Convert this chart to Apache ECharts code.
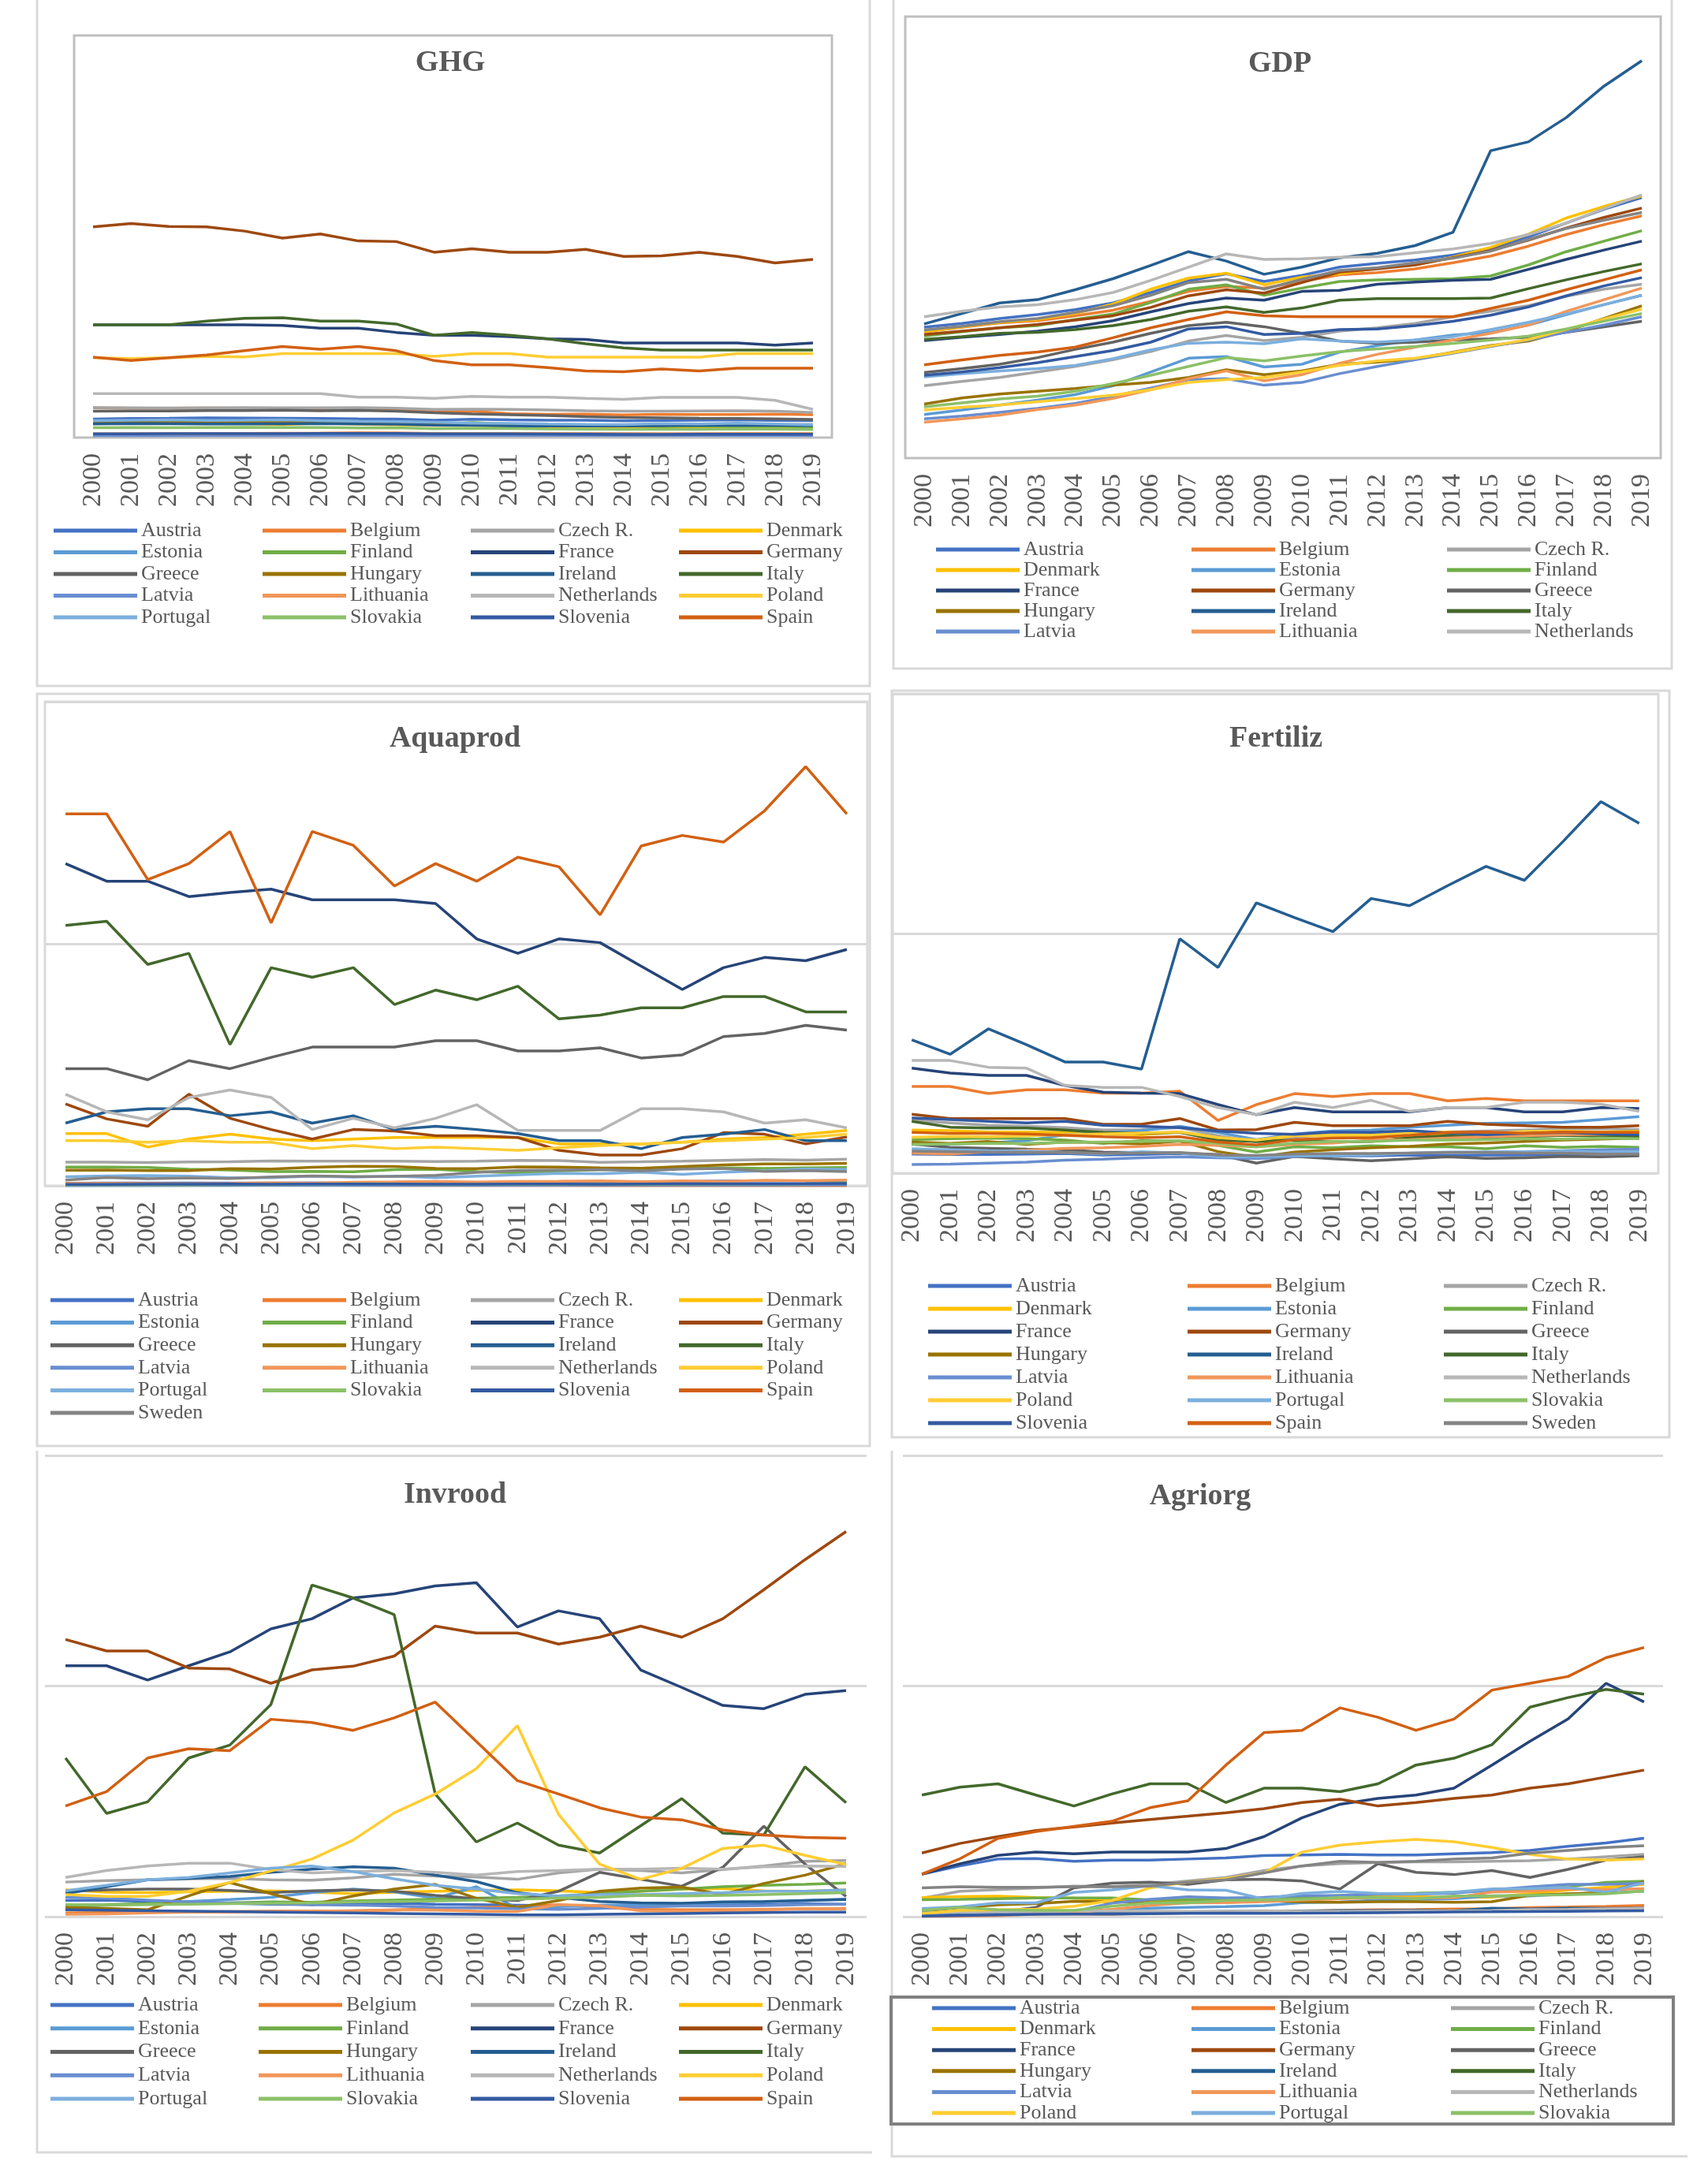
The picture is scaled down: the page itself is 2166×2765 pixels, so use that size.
<!DOCTYPE html>
<html><head><meta charset="utf-8">
<script src="https://cdn.jsdelivr.net/npm/echarts@6/dist/echarts.min.js"></script>
<style>html,body{margin:0;padding:0;background:#fff}#c{width:2166px;height:2765px}</style>
</head><body><div id="c"></div><script>
const years = ['2000','2001','2002','2003','2004','2005','2006','2007','2008','2009','2010','2011','2012','2013','2014','2015','2016','2017','2018','2019'];
const countries = ['Austria','Belgium','Czech R.','Denmark','Estonia','Finland','France','Germany','Greece','Hungary','Ireland','Italy','Latvia','Lithuania','Netherlands','Poland','Portugal','Slovakia','Slovenia','Spain','Sweden'];

// GHG (Mt CO2e)
const ghgData = {
 'Austria':[92,95,96,98,97,96,95,93,92,86,91,88,86,86,83,85,86,88,85,84],
 'Belgium':[148,146,146,147,145,142,139,136,138,127,131,119,116,117,113,116,115,115,117,114],
 'Czech R.':[149,148,147,148,149,148,148,149,146,140,141,140,137,133,131,131,132,133,131,125],
 'Denmark':[70,70,70,75,70,65,72,67,64,61,62,57,53,56,52,49,51,49,49,45],
 'Estonia':[17,17,17,19,19,18,17,21,19,16,20,20,19,21,20,17,19,20,18,14],
 'Finland':[70,72,74,80,76,68,80,78,70,66,75,67,61,63,59,55,58,56,57,53],
 'France':[561,561,561,561,561,558,544,544,523,509,509,502,491,488,471,471,471,471,460,471],
 'Germany':[1048,1065,1050,1048,1027,992,1013,978,975,922,939,922,922,936,901,904,922,901,869,886],
 'Greece':[131,132,132,134,134,136,133,135,131,124,118,114,110,104,100,98,96,95,93,90],
 'Hungary':[77,78,77,79,79,78,77,75,73,67,66,65,62,59,59,61,62,64,64,65],
 'Ireland':[68,70,69,68,68,69,70,68,67,62,61,58,59,58,58,60,62,61,61,60],
 'Italy':[561,561,561,579,593,596,579,579,565,509,523,509,491,467,446,435,435,435,435,435],
 'Latvia':[10,10,10,11,11,11,11,12,11,11,12,11,11,11,11,11,11,11,12,11],
 'Lithuania':[19,20,20,20,21,22,23,25,24,21,21,21,21,20,20,20,20,21,21,21],
 'Netherlands':[219,219,219,219,219,219,219,201,201,195,205,201,201,195,190,200,200,200,185,140],
 'Poland':[397,393,397,404,401,418,418,418,418,404,418,418,400,400,400,400,400,418,418,418],
 'Portugal':[84,86,88,85,86,88,84,81,79,76,72,71,68,66,65,70,68,72,68,64],
 'Slovakia':[49,50,49,50,51,50,50,48,49,44,46,45,43,42,41,41,41,43,42,40],
 'Slovenia':[19,19,20,20,20,20,21,21,21,19,19,19,18,17,16,16,17,17,17,17],
 'Spain':[400,383,397,411,432,453,439,453,432,383,362,362,348,331,327,341,331,345,345,345]
};

// GDP (thousand, per capita)
const gdpData = {
 'Austria':[23.7,24.4,25.3,26.0,26.9,28.1,30.0,32.1,33.4,32.0,33.1,34.6,35.3,35.9,36.8,38.0,40.1,42.6,45.1,47.2],
 'Belgium':[22.9,23.7,24.5,24.9,25.8,26.8,28.4,30.2,31.1,30.8,32.0,33.2,33.6,34.3,35.4,36.6,38.4,40.5,42.3,43.9],
 'Czech R.':[13.1,13.9,14.6,15.6,16.6,17.8,19.3,21.2,22.2,21.3,21.9,23.0,23.6,24.4,25.6,26.6,27.6,29.3,30.6,31.5],
 'Denmark':[22.9,23.8,24.6,25.1,26.2,27.9,30.6,32.6,33.5,31.4,32.8,33.4,34.4,35.0,36.4,38.2,40.6,43.5,45.6,47.5],
 'Estonia':[7.9,8.7,9.6,10.5,11.5,13.1,15.6,18.1,18.4,16.5,17.0,19.2,20.4,21.4,22.3,22.8,24.1,26.0,27.8,29.5],
 'Finland':[22.1,22.9,23.6,24.0,25.1,26.1,28.2,30.6,31.4,29.5,30.8,32.0,32.3,32.4,32.5,33.0,35.0,37.4,39.3,41.2],
 'France':[21.3,21.9,22.4,23.0,23.8,24.9,26.5,28.0,29.0,28.6,30.2,30.4,31.5,31.9,32.2,32.4,34.2,36.0,37.7,39.3],
 'Germany':[22.4,23.0,23.6,24.2,25.0,25.8,27.3,29.4,30.5,29.9,31.8,33.7,34.3,35.0,36.3,37.6,39.5,41.7,43.6,45.3],
 'Greece':[15.5,16.2,17.0,18.2,19.7,21.0,22.6,24.0,24.6,23.8,22.6,21.2,20.8,21.0,21.4,21.6,21.9,22.8,23.8,24.8],
 'Hungary':[9.8,10.9,11.6,12.1,12.6,13.2,13.7,14.6,16.0,15.1,15.8,17.0,17.4,18.0,19.2,20.4,21.2,23.0,25.3,27.6],
 'Ireland':[24.3,26.2,28.1,28.7,30.5,32.5,34.9,37.4,35.7,33.3,34.6,36.3,37.1,38.5,40.9,55.7,57.3,61.7,67.4,72.0],
 'Italy':[21.5,22.0,22.6,22.8,23.3,24.0,25.1,26.6,27.4,26.4,27.2,28.6,28.9,28.9,28.9,29.0,30.7,32.3,33.8,35.2],
 'Latvia':[7.1,7.6,8.3,9.0,9.9,11.2,12.7,14.2,14.4,13.2,13.7,15.3,16.6,17.8,19.0,20.2,21.4,22.8,24.1,25.6],
 'Lithuania':[6.5,7.1,7.8,8.8,9.6,10.8,12.4,14.4,15.8,14.0,15.1,17.2,18.8,20.1,21.4,22.6,24.1,26.6,28.7,30.8],
 'Netherlands':[25.6,26.6,27.4,27.8,28.7,30.0,32.2,34.6,37.0,36.0,36.1,36.4,36.5,37.2,37.9,38.9,40.5,42.6,45.2,47.7],
 'Poland':[8.7,9.2,9.6,10.2,10.8,11.4,12.4,13.7,14.2,14.6,15.6,16.8,17.6,18.1,19.1,20.3,21.5,23.3,25.2,27.0],
 'Portugal':[14.7,15.3,15.8,16.2,16.8,18.0,19.6,20.8,21.0,20.7,21.6,21.2,21.0,21.4,22.0,23.3,24.6,26.1,27.8,29.5],
 'Slovakia':[9.3,10.0,10.7,11.2,12.1,13.5,15.0,16.6,18.2,17.6,18.5,19.3,19.8,20.2,20.8,21.4,22.1,23.4,24.8,26.2],
 'Slovenia':[15.0,15.6,16.4,17.3,18.4,19.5,21.0,23.4,23.8,22.4,22.6,23.3,23.4,24.0,24.8,25.9,27.4,29.4,31.2,32.7],
 'Spain':[16.9,17.8,18.6,19.2,20.1,21.8,23.6,25.1,26.5,25.8,25.6,25.6,25.6,25.6,25.6,27.1,28.6,30.5,32.3,34.1],
 'Sweden':[23.2,23.9,24.7,25.3,26.4,27.6,29.5,31.8,32.4,30.6,32.4,34.0,34.5,35.4,36.2,37.5,39.6,41.6,43.1,44.5]
};

// Aquaprod (thousand tonnes)
const aquaData = {
 'Austria':[2.1,2.2,2.3,2.3,2.2,2.3,2.5,2.3,2.1,2.2,2.2,2.5,3.3,3.4,3.5,3.6,3.9,4.0,4.1,4.2],
 'Belgium':[1.6,1.5,1.6,1.5,1.3,0.9,0.7,0.5,0.4,0.3,0.3,0.3,0.3,0.2,0.2,0.2,0.2,0.2,0.2,0.2],
 'Czech R.':[19.5,19.6,19.2,19.7,19.9,20.5,20.4,20.4,20.4,20.1,20.4,21.0,20.9,19.4,19.8,20.3,21.0,21.7,21.2,22.0],
 'Denmark':[43.1,43.1,32.0,38.6,42.6,38.6,37.3,38.6,39.9,39.9,39.9,39.9,34.6,34.6,34.6,36.0,38.6,39.9,42.6,45.7],
 'Estonia':[0.2,0.4,0.4,0.4,0.4,0.6,0.6,0.6,0.6,0.7,0.5,0.7,0.7,0.8,0.9,0.9,0.9,0.8,0.9,0.9],
 'Finland':[15.4,15.5,15.2,13.7,13.0,11.8,11.9,11.6,13.3,13.7,11.8,10.8,12.2,13.3,13.6,14.6,14.8,14.3,14.8,15.1],
 'France':[266.2,251.7,251.7,239.0,242.4,245.1,236.3,236.3,236.3,233.2,204.0,192.1,204.0,200.9,181.5,162.2,180.2,188.7,186.0,195.3],
 'Germany':[67.7,55.3,49.2,75.7,55.8,46.5,38.6,46.5,45.2,41.3,41.3,39.9,29.3,25.4,25.4,30.7,43.9,42.6,34.6,40.4],
 'Greece':[96.8,96.8,87.6,103.4,96.8,106.1,114.6,114.6,114.6,119.9,119.9,111.4,111.4,114.0,105.6,108.2,123.3,125.9,132.6,128.6],
 'Hungary':[12.9,13.1,12.6,12.5,14.2,13.9,15.3,16.1,15.9,14.4,14.2,15.6,15.5,14.8,14.5,16.0,17.2,18.1,18.0,18.6],
 'Ireland':[51.8,61.1,63.7,63.7,57.9,61.1,51.8,57.9,46.5,49.2,46.5,43.1,37.3,37.3,30.7,39.9,42.6,46.5,37.3,37.3],
 'Italy':[215.1,218.6,182.9,192.1,116.7,180.2,172.3,180.2,149.8,161.7,153.7,164.9,137.9,141.0,147.1,147.1,156.4,156.4,143.7,143.7],
 'Latvia':[0.4,0.5,0.4,0.5,0.6,0.6,0.6,0.6,0.6,0.5,0.5,0.5,0.6,0.6,0.7,0.7,0.7,0.8,0.8,0.9],
 'Lithuania':[2.0,1.9,1.8,1.6,1.9,2.4,2.1,2.9,3.2,3.6,3.1,3.6,3.8,4.1,3.4,4.0,3.6,4.5,4.3,4.7],
 'Netherlands':[75.7,61.1,54.5,73.0,79.1,73.0,46.5,55.8,47.9,55.8,67.0,45.7,45.7,45.7,63.7,63.7,61.1,51.8,54.5,47.9],
 'Poland':[37.3,37.3,36.0,37.3,36.0,36.0,30.7,33.3,30.7,32.0,30.7,29.3,31.5,33.3,34.6,36.0,37.3,38.6,39.9,42.6],
 'Portugal':[7.5,8.2,8.4,8.0,6.7,6.7,8.0,7.2,8.0,6.7,8.0,9.2,10.3,10.0,11.2,9.5,11.3,12.4,13.9,13.5],
 'Slovakia':[0.7,0.9,0.8,0.8,0.9,1.1,1.4,1.6,1.6,1.0,1.2,1.3,1.1,1.4,1.2,1.3,1.4,1.5,1.7,2.4],
 'Slovenia':[1.2,1.2,1.3,1.3,1.4,1.3,1.5,1.4,1.4,1.3,1.3,1.4,1.4,1.3,1.5,1.6,1.6,1.7,1.8,2.0],
 'Spain':[307.3,307.3,253.0,266.2,292.7,217.3,292.7,281.3,247.7,266.2,251.7,271.5,263.6,223.9,280.8,289.5,284.0,309.9,346.4,307.3],
 'Sweden':[4.8,6.8,5.8,6.5,6.0,7.3,8.2,7.6,7.8,8.6,11.1,12.7,13.1,13.4,12.4,13.8,14.4,11.9,12.6,11.7]
};

// Fertiliz
const fertData = {
 'Austria':[4.0,3.9,3.9,4.0,4.1,3.8,3.9,4.1,3.6,3.1,3.5,3.6,3.6,3.8,3.7,3.8,3.8,3.9,4.0,4.0],
 'Belgium':[18.1,18.1,16.6,17.4,17.4,16.7,16.7,17.1,11.0,14.3,16.6,16.0,16.6,16.6,15.1,15.6,15.1,15.1,15.1,15.1],
 'Czech R.':[11.0,10.5,10.0,9.8,9.5,9.0,9.1,9.5,7.8,6.5,7.5,8.2,8.0,8.4,8.6,8.8,9.0,9.2,9.3,9.1],
 'Denmark':[9.0,8.9,8.6,8.6,8.5,8.2,8.0,8.6,7.4,6.7,7.8,7.8,7.5,7.9,8.0,8.2,8.4,8.5,8.6,8.7],
 'Estonia':[6.0,6.1,6.3,6.8,8.0,8.4,8.9,9.8,8.5,7.0,8.2,8.8,9.0,9.6,10.0,10.4,10.5,10.6,11.2,11.8],
 'Finland':[7.0,7.2,7.3,7.2,6.9,6.2,6.8,6.7,5.8,4.4,5.5,5.3,5.7,5.5,5.5,5.1,5.7,5.4,5.6,5.4],
 'France':[21.9,20.9,20.4,20.4,18.3,16.9,16.7,16.6,14.3,12.2,13.7,12.8,12.8,12.8,13.7,13.7,12.8,12.8,13.7,13.5],
 'Germany':[12.3,11.4,11.4,11.4,11.4,10.2,10.2,11.4,9.0,9.1,10.6,9.9,9.9,9.9,10.8,10.2,9.9,9.6,9.6,9.9],
 'Greece':[6.1,5.4,5.2,5.0,4.9,4.4,4.3,4.2,3.9,2.1,3.5,3.0,2.6,3.0,3.4,3.1,3.2,3.5,3.4,3.6],
 'Hungary':[6.5,6.2,6.6,6.0,6.5,6.4,6.1,6.7,4.5,3.3,4.4,4.9,5.3,5.6,6.1,6.3,6.6,6.9,7.1,7.3],
 'Ireland':[27.8,24.8,30.1,26.8,23.2,23.2,21.7,48.9,42.9,56.4,53.3,50.4,57.3,55.8,60.0,64.0,61.1,69.1,77.5,73.0],
 'Italy':[10.8,9.6,9.4,9.4,9.0,8.5,8.3,8.5,6.9,6.6,6.9,6.5,6.6,7.4,7.8,7.5,7.6,7.9,7.8,7.7],
 'Latvia':[1.8,1.9,2.1,2.3,2.7,2.9,3.2,3.4,3.2,3.1,3.5,3.7,3.9,4.1,4.3,4.4,4.5,4.7,4.9,5.0],
 'Lithuania':[4.2,4.0,4.5,4.8,5.2,5.3,5.6,6.0,5.8,5.5,6.0,6.3,6.9,7.0,7.3,7.6,7.8,8.0,8.1,8.3],
 'Netherlands':[23.5,23.5,22.1,21.9,18.3,17.9,17.9,16.0,13.7,12.2,14.8,13.7,15.2,12.9,13.7,13.7,14.8,14.8,14.4,12.9],
 'Poland':[7.5,7.7,7.6,7.8,8.0,8.2,8.4,8.6,7.4,6.9,7.9,7.9,8.0,8.5,8.6,8.2,8.7,8.8,8.6,8.2],
 'Portugal':[5.1,4.9,4.7,4.6,4.3,4.0,4.5,4.2,3.4,3.4,3.7,3.6,3.8,4.2,4.4,4.4,4.5,4.6,4.4,4.5],
 'Slovakia':[6.0,6.1,6.2,6.2,6.4,6.5,6.6,6.8,6.2,5.5,6.3,6.6,6.6,6.9,6.9,7.0,7.2,7.1,7.3,7.2],
 'Slovenia':[11.5,11.2,10.8,10.5,10.8,10.0,9.8,9.5,8.8,8.3,8.1,8.6,8.5,8.9,8.4,8.0,8.3,8.5,8.2,8.0],
 'Spain':[8.5,8.3,8.3,8.2,7.9,7.6,7.4,7.6,6.5,5.9,7.0,7.3,7.4,7.9,8.5,8.6,8.3,8.6,8.5,8.5],
 'Sweden':[4.6,4.5,4.4,4.3,4.3,4.1,4.2,4.3,3.8,3.7,4.0,4.1,4.1,4.2,4.3,4.3,4.2,4.2,4.0,4.0]
};

// Invrood
const invData = {
 'Austria':[3.5,3.6,3.3,3.0,2.9,2.7,2.6,2.8,2.9,2.7,2.6,2.5,2.4,2.3,2.6,2.6,2.7,2.6,2.8,2.7],
 'Belgium':[0.8,0.9,1.0,1.0,1.1,1.2,1.2,1.3,1.4,1.8,2.0,2.2,2.6,2.0,1.6,1.5,1.5,1.6,1.7,1.7],
 'Czech R.':[7.5,7.8,8.0,8.2,8.3,8.0,7.9,8.4,9.2,8.8,8.6,8.1,9.5,10.3,10.0,9.5,10.2,11.0,12.0,12.2],
 'Denmark':[5.8,5.3,5.2,5.4,5.5,5.6,5.3,5.0,5.3,5.5,5.7,5.8,5.6,5.2,5.5,6.0,6.1,5.6,5.5,5.8],
 'Estonia':[2.0,2.5,2.8,3.3,3.7,4.2,5.2,6.0,5.4,4.0,6.5,1.8,2.2,2.5,2.6,2.8,3.0,3.2,3.5,3.8],
 'Finland':[2.5,2.6,2.8,2.9,3.0,3.2,3.1,3.4,3.6,3.8,4.0,4.2,4.5,5.0,5.5,6.0,6.5,6.8,7.0,7.3],
 'France':[54.4,54.4,51.3,54.4,57.4,62.4,64.6,69.1,70.0,71.7,72.4,62.8,66.3,64.6,53.5,49.7,45.8,45.1,48.2,49.0],
 'Germany':[60.1,57.6,57.6,53.9,53.7,50.6,53.5,54.3,56.5,63.0,61.5,61.5,59.1,60.6,63.0,60.6,64.6,70.9,77.4,83.5],
 'Greece':[5.5,5.8,6.0,6.0,5.7,5.2,5.6,5.8,5.5,4.6,3.9,3.5,5.5,9.6,8.1,6.6,10.7,19.6,11.4,4.4],
 'Hungary':[2.0,1.8,1.5,4.5,7.4,5.0,2.6,4.5,6.0,7.0,4.0,2.0,3.5,5.5,6.2,6.4,4.8,7.2,9.0,11.5],
 'Ireland':[5.0,6.5,8.0,8.3,8.7,9.6,10.3,10.8,10.5,9.0,7.6,5.2,4.2,3.3,3.0,2.9,3.2,3.3,3.5,3.7],
 'Italy':[34.4,22.4,24.9,34.4,37.2,46.0,71.9,69.1,65.5,26.6,16.2,20.3,15.5,13.8,19.7,25.6,18.1,17.7,32.5,24.7],
 'Latvia':[4.2,4.0,3.6,3.2,3.0,2.8,2.6,2.5,2.3,2.0,1.9,1.7,1.6,1.8,2.1,2.3,2.3,2.4,2.6,2.7],
 'Lithuania':[0.5,0.6,0.8,1.0,1.0,1.1,1.2,1.3,1.5,1.4,1.2,1.1,2.6,2.4,1.3,1.2,1.3,1.5,1.7,1.8],
 'Netherlands':[8.5,10.0,11.0,11.6,11.6,10.2,9.5,9.8,10.0,9.6,9.0,9.8,10.0,10.3,10.3,10.5,10.3,10.8,11.0,10.9],
 'Poland':[4.8,4.4,4.4,5.5,7.4,9.9,12.5,16.6,22.5,26.6,32.1,41.4,22.2,11.4,8.1,10.5,14.8,15.5,13.3,11.3],
 'Portugal':[5.6,6.8,8.0,8.5,9.5,10.5,11.0,9.8,8.2,6.8,6.0,5.0,4.5,4.8,4.8,5.0,5.2,5.5,5.5,5.8],
 'Slovakia':[2.6,2.5,2.6,2.7,2.8,2.9,3.0,3.2,3.3,3.4,3.6,3.8,4.0,4.2,4.6,4.5,4.6,4.8,5.0,5.2],
 'Slovenia':[1.5,1.4,1.3,1.2,1.1,1.0,0.9,0.8,0.7,0.6,0.5,0.4,0.4,0.5,0.6,0.7,0.8,0.9,1.0,1.0],
 'Spain':[24.0,27.1,34.4,36.4,36.0,42.8,42.1,40.4,43.1,46.5,38.0,29.5,26.6,23.6,21.6,21.0,18.8,17.7,17.2,17.0]
};

// Agriorg (thousand ha)
const agriData = {
 'Austria':[369,440,500,505,480,490,490,500,510,530,535,540,535,535,545,555,575,610,640,680],
 'Belgium':[20,22,24,25,24,23,29,32,36,41,49,55,59,62,66,68,78,83,89,97],
 'Czech R.':[160,220,235,250,265,260,280,310,340,400,440,460,470,475,475,480,485,500,520,540],
 'Denmark':[165,175,178,165,160,145,140,145,150,155,160,165,175,175,165,170,200,230,255,280],
 'Estonia':[10,20,30,46,47,60,73,80,87,96,121,127,143,151,156,181,180,196,206,220],
 'Finland':[147,150,156,162,163,162,145,149,150,166,169,185,197,204,212,225,238,259,297,307],
 'France':[369,458,532,561,546,561,561,561,591,694,857,975,1025,1055,1114,1315,1522,1714,2024,1862],
 'Germany':[552,635,694,747,777,812,842,871,901,937,990,1019,960,990,1025,1055,1114,1152,1211,1271],
 'Greece':[25,32,40,80,250,290,300,280,320,325,310,240,460,385,365,400,340,410,490,520],
 'Hungary':[47,79,103,113,134,128,123,122,123,140,128,124,130,130,124,130,186,199,209,303],
 'Ireland':[32,30,30,29,31,35,40,41,44,48,48,53,53,54,51,73,67,74,71,73],
 'Italy':[1055,1123,1152,1055,960,1064,1152,1152,990,1114,1114,1084,1152,1315,1374,1492,1817,1900,1971,1930],
 'Latvia':[5,10,20,35,43,118,150,173,162,167,183,184,196,195,204,232,259,280,280,290],
 'Lithuania':[2,5,9,23,36,64,97,120,122,130,143,156,165,161,165,213,221,239,235,242],
 'Netherlands':[32,38,42,42,49,49,48,47,50,51,47,47,48,49,49,53,62,64,69,71],
 'Poland':[25,55,60,65,90,140,250,300,330,380,560,620,650,670,650,600,540,500,490,500],
 'Portugal':[70,85,120,120,210,233,269,233,229,153,201,218,201,197,212,241,245,253,213,293],
 'Slovakia':[55,80,60,55,55,90,120,120,140,145,150,165,165,155,180,180,187,189,198,222],
 'Slovenia':[5,10,15,20,23,23,26,29,30,29,30,32,35,38,41,42,44,47,49,52],
 'Spain':[369,502,679,738,783,827,945,1005,1315,1596,1616,1811,1729,1616,1714,1965,2024,2083,2246,2334],
 'Sweden':[250,260,255,255,260,260,265,300,320,380,440,480,470,480,500,510,550,575,600,615]
};

// ---------- styling (not data) ----------
const palette = {
 'Austria':'#4472C4','Belgium':'#ED7D31','Czech R.':'#A5A5A5','Denmark':'#FFC000','Estonia':'#5B9BD5',
 'Finland':'#70AD47','France':'#264478','Germany':'#9E480E','Greece':'#636363','Hungary':'#997300',
 'Ireland':'#255E91','Italy':'#43682B','Latvia':'#698ED0','Lithuania':'#F1975A','Netherlands':'#B7B7B7',
 'Poland':'#FFCD33','Portugal':'#7CAFDD','Slovakia':'#8CC168','Slovenia':'#335AA1','Spain':'#D26012','Sweden':'#848484'
};
const SERIF = '"Liberation Serif","Times New Roman",serif';
const GRAY = '#595959';

const panels = [
 {title:'GHG', data:ghgData, tx:571, ty:80, grid:{left:94,top:45,width:961,height:510}, max:2000, interval:2000, box:'#BFBFBF', split:false,
  legend:{cols:[68,333,597,861], first:673, pitch:27.5, count:20}},
 {title:'GDP', data:gdpData, tx:1623, ty:81, grid:{left:1148,top:21,width:958,height:560}, max:80, interval:80, box:'#BFBFBF', split:false,
  legend:{cols:[1187,1511,1835], first:697, pitch:26, count:15}},
 {title:'Aquaprod', data:aquaData, tx:577, ty:937, grid:{left:57,top:890,width:1043,height:614}, max:400, interval:200, box:'#D9D9D9', split:true,
  legend:{cols:[64,333,597,861], first:1649, pitch:28.6, count:21}},
 {title:'Fertiliz', data:fertData, tx:1618, ty:937, grid:{left:1132,top:880,width:971,height:608}, max:100, interval:50, box:'#D9D9D9', split:true,
  legend:{cols:[1177,1506,1831], first:1631, pitch:29, count:21}},
 {title:'Invrood', data:invData, tx:577, ty:1896, grid:{left:57,top:1846,width:1042,height:585}, max:100, interval:50, box:null, split:true,
  legend:{cols:[64,328,597,861], first:2543, pitch:29.75, count:20}},
 {title:'Agriorg', data:agriData, tx:1522, ty:1898, grid:{left:1145,top:1846,width:964,height:585}, max:4000, interval:2000, box:null, split:true,
  legend:{cols:[1182,1511,1840], first:2547, pitch:26.6, count:18}}
];

const grids=[], xAxes=[], yAxes=[], series=[], legends=[], graphics=[];
const LFS = 26;
panels.forEach((p, gi) => {
  grids.push(Object.assign({show: !!p.box, borderColor: p.box || 'transparent', borderWidth: 3, backgroundColor:'transparent'}, p.grid));
  xAxes.push({type:'category', gridIndex:gi, data:years, boundaryGap:true,
    axisLine:{show:false}, axisTick:{show:false},
    axisLabel:{rotate:90, interval:0, margin:20, fontSize:34, fontFamily:SERIF, color:GRAY}});
  yAxes.push({type:'value', gridIndex:gi, min:0, max:p.max, interval:p.interval,
    axisLine:{show:false}, axisTick:{show:false}, axisLabel:{show:false},
    splitLine:{show:p.split, lineStyle:{color:'#D9D9D9', width:3}}});
  Object.keys(p.data).forEach(name => {
    series.push({type:'line', name:name, xAxisIndex:gi, yAxisIndex:gi, data:p.data[name],
      symbol:'none', showSymbol:false, silent:true,
      lineStyle:{width:3.5, color:palette[name]}, itemStyle:{color:palette[name]},
      emphasis:{disabled:true}});
  });
  const names = countries.filter(n => n in p.data).slice(0, p.legend.count);
  const nc = p.legend.cols.length;
  p.legend.cols.forEach((cx, ci) => {
    const colNames = names.filter((n, k) => k % nc === ci);
    legends.push({orient:'vertical', left:cx, top:p.legend.first - LFS/2, padding:0,
      itemWidth:106, itemHeight:5, icon:'rect', itemGap:Math.max(0, p.legend.pitch - LFS),
      selectedMode:false, data:colNames,
      textStyle:{fontFamily:SERIF, fontSize:LFS, lineHeight:LFS, color:GRAY}});
  });
  graphics.push({type:'text', x:p.tx, y:p.ty, silent:true,
    style:{text:p.title, fontFamily:SERIF, fontWeight:'bold', fontSize:38, fill:GRAY, align:'center', verticalAlign:'middle'}});
});

const frame = {stroke:'#D9D9D9', lineWidth:3, fill:null};
graphics.push(
  {type:'polyline', silent:true, shape:{points:[[47,0],[47,870],[1103,870],[1103,0]]}, style:frame},
  {type:'polyline', silent:true, shape:{points:[[1133,0],[1133,848],[2120,848],[2120,0]]}, style:frame},
  {type:'rect', silent:true, shape:{x:47,y:880,width:1056,height:954}, style:frame},
  {type:'rect', silent:true, shape:{x:1131,y:876,width:986,height:947}, style:frame},
  {type:'polyline', silent:true, shape:{points:[[47,1840],[47,2730],[1106,2730]]}, style:frame},
  {type:'polyline', silent:true, shape:{points:[[1131,1840],[1131,2735],[2140,2735]]}, style:frame},
  {type:'rect', silent:true, shape:{x:1130,y:2533,width:992,height:161}, style:{stroke:'#808080', lineWidth:4, fill:null}}
);

const chart = echarts.init(document.getElementById('c'), null, {renderer:'canvas'});
chart.setOption({
  animation:false, backgroundColor:'#fff',
  grid:grids, xAxis:xAxes, yAxis:yAxes, series:series, legend:legends, graphic:graphics
});
</script></body></html>
